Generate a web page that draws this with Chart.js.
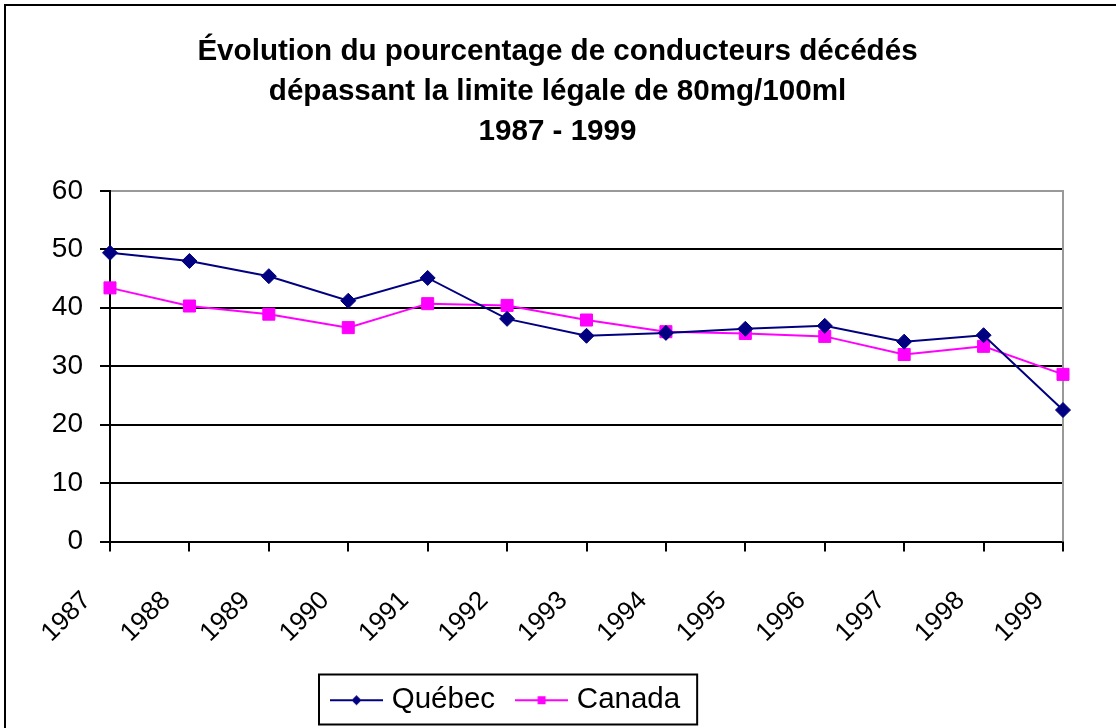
<!DOCTYPE html>
<html>
<head>
<meta charset="utf-8">
<script src="https://cdn.jsdelivr.net/npm/chart.js@4"></script>
<style>
  body { margin: 0; background: #fff; }
  #wrap { width: 1116px; height: 728px; }
</style>
</head>
<body>
<div id="wrap"><canvas id="chart" width="1116" height="728"></canvas></div>
<script>
const years = ['1987', '1988', '1989', '1990', '1991', '1992', '1993', '1994', '1995', '1996', '1997', '1998', '1999'];
const quebec = [49.4, 48.0, 45.4, 41.2, 45.1, 38.1, 35.2, 35.7, 36.4, 36.9, 34.2, 35.3, 22.5];
const canada = [43.4, 40.3, 38.9, 36.6, 40.7, 40.4, 37.9, 35.9, 35.6, 35.1, 32.0, 33.4, 28.6];
const yMin = 0, yMax = 60, yStep = 10;
const titleLines = ['Évolution du pourcentage de conducteurs décédés', 'dépassant la limite légale de 80mg/100ml', '1987 - 1999'];

const FONT = "'Liberation Sans', Arial, sans-serif";
const NAVY = '#000080';
const MAGENTA = '#ff00ff';

// little line + marker pictures for the legend
function legendIcon(color, kind) {
  const c = document.createElement('canvas');
  c.width = 53; c.height = 14;
  const g = c.getContext('2d');
  g.strokeStyle = color; g.lineWidth = 2;
  g.beginPath(); g.moveTo(0, 7); g.lineTo(53, 7); g.stroke();
  g.fillStyle = color;
  if (kind === 'diamond') {
    g.beginPath(); g.moveTo(26.5, 2); g.lineTo(31.5, 7); g.lineTo(26.5, 12); g.lineTo(21.5, 7); g.closePath(); g.fill();
  } else {
    g.fillRect(22.5, 3, 8, 8);
  }
  return c;
}
const icons = [legendIcon(NAVY, 'diamond'), legendIcon(MAGENTA, 'square')];

const frame = {
  id: 'frame',
  beforeDraw(chart) {
    const ctx = chart.ctx;
    ctx.save(); ctx.fillStyle = '#fff'; ctx.fillRect(0, 0, chart.width, chart.height); ctx.restore();
  },
  afterLayout(chart) {
    chart.legend.left = 310;
  },
  beforeDatasetsDraw(chart) {
    const a = chart.chartArea, ctx = chart.ctx;
    ctx.save();
    ctx.strokeStyle = '#999'; ctx.lineWidth = 2;
    ctx.beginPath(); ctx.moveTo(a.right, a.top - 1); ctx.lineTo(a.right, a.bottom); ctx.stroke();
    ctx.restore();
  },
  afterDraw(chart) {
    const ctx = chart.ctx;
    ctx.save();
    ctx.strokeStyle = '#000'; ctx.lineWidth = 2;
    ctx.beginPath(); ctx.moveTo(5, chart.height + 5); ctx.lineTo(5, 5); ctx.lineTo(chart.width + 5, 5); ctx.stroke();
    const hb = chart.legend.legendHitBoxes;
    if (hb && hb.length) {
      const last = hb[hb.length - 1];
      const left = hb[0].left - 17, right = last.left + last.width + 17;
      const cy = hb[0].top + 14;
      ctx.strokeRect(left, cy - 25, right - left, 50);
    }
    ctx.restore();
  }
};

new Chart(document.getElementById('chart'), {
  type: 'line',
  data: {
    labels: years,
    datasets: [{
      label: 'Québec',
      data: quebec,
      borderColor: NAVY,
      backgroundColor: NAVY,
      borderWidth: 2,
      pointStyle: 'rectRot',
      pointRadius: 7.5,
      pointBorderWidth: 1,
      tension: 0,
      clip: false
    }, {
      label: 'Canada',
      data: canada,
      borderColor: MAGENTA,
      backgroundColor: MAGENTA,
      borderWidth: 2,
      pointStyle: 'rect',
      pointRadius: 8.5,
      pointBorderWidth: 1,
      tension: 0,
      clip: false
    }]
  },
  options: {
    responsive: false,
    animation: false,
    events: [],
    layout: { padding: { left: 52, right: 53, top: 0, bottom: 3 } },
    plugins: {
      title: {
        display: true,
        text: titleLines,
        color: '#000',
        font: { family: FONT, size: 29.6, weight: 'bold', lineHeight: 1.35 },
        padding: { top: 32, bottom: 39 }
      },
      legend: {
        position: 'bottom',
        align: 'start',
        labels: {
          color: '#000',
          font: { family: FONT, size: 29.5 },
          usePointStyle: true,
          pointStyleWidth: 41,
          padding: 26,
          generateLabels(chart) {
            const items = Chart.defaults.plugins.legend.labels.generateLabels(chart);
            items.forEach((it, i) => { it.pointStyle = icons[i]; });
            return items;
          }
        }
      },
      tooltip: { enabled: false }
    },
    scales: {
      x: {
        offset: false,
        afterFit(scale) {
          scale.paddingLeft = 0;
          scale.paddingRight = 0;
          scale.height = 118;
        },
        grid: { drawOnChartArea: false, drawTicks: true, tickLength: 10, color: '#000', lineWidth: 2 },
        border: { color: '#000', width: 2 },
        ticks: {
          color: '#000',
          font: { family: FONT, size: 26 },
          minRotation: 45, maxRotation: 45,
          autoSkip: false,
          padding: 34,
          labelOffset: -23
        }
      },
      y: {
        min: yMin, max: yMax,
        afterFit(scale) {
          scale.width = 58;
        },
        grid: {
          color: ctx => (ctx.tick && ctx.tick.value === yMax ? '#999' : '#000'),
          tickColor: '#000',
          lineWidth: 2,
          tickLength: 10
        },
        border: { color: '#000', width: 2 },
        ticks: {
          stepSize: yStep,
          color: '#000',
          font: { family: FONT, size: 28 },
          padding: 17
        }
      }
    }
  },
  plugins: [frame]
});
</script>
</body>
</html>
